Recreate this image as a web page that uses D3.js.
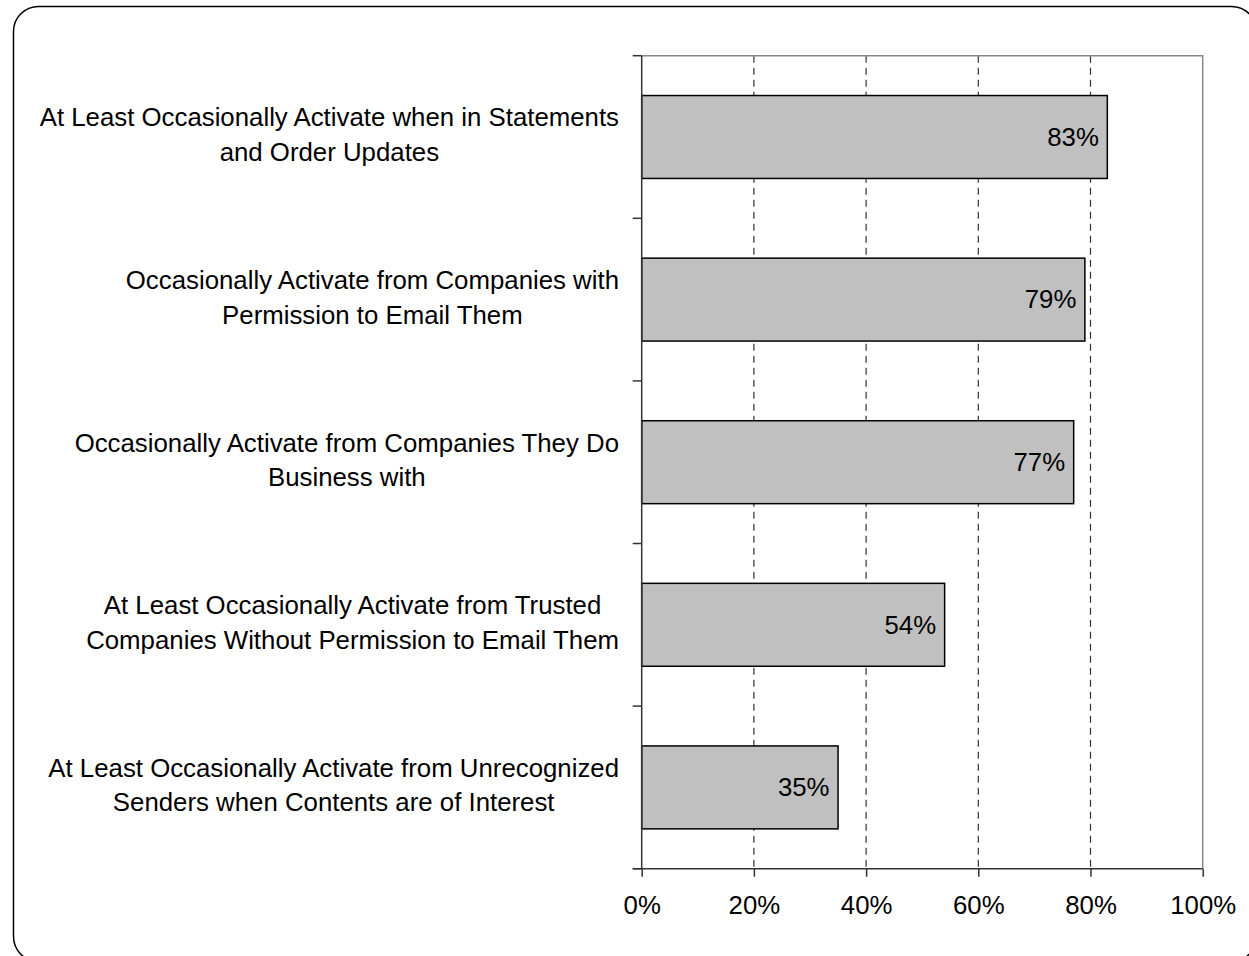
<!DOCTYPE html>
<html>
<head>
<meta charset="utf-8">
<script src="https://cdn.jsdelivr.net/npm/d3@7/dist/d3.min.js"></script>
<style>
  html, body { margin: 0; padding: 0; background: #fff; }
  svg { display: block; }
  text { font-family: "Liberation Sans", Arial, sans-serif; fill: #000; }
</style>
</head>
<body>
<svg id="chart" width="1249" height="956"></svg>
<script>
// Survey responses: share of respondents who activate images in email
const categories = [
  "At Least Occasionally Activate when in Statements and Order Updates",
  "Occasionally Activate from Companies with Permission to Email Them",
  "Occasionally Activate from Companies They Do Business with",
  "At Least Occasionally Activate from Trusted Companies Without Permission to Email Them",
  "At Least Occasionally Activate from Unrecognized Senders when Contents are of Interest"
];
const categoryLines = [
  ["At Least Occasionally Activate when in Statements", "and Order Updates"],
  ["Occasionally Activate from Companies with", "Permission to Email Them"],
  ["Occasionally Activate from Companies They Do", "Business with"],
  ["At Least Occasionally Activate from Trusted", "Companies Without Permission to Email Them"],
  ["At Least Occasionally Activate from Unrecognized", "Senders when Contents are of Interest"]
];
const values = [83, 79, 77, 54, 35];
const xTicks = [0, 20, 40, 60, 80, 100];

const svg = d3.select("#chart");
const fontSize = 25.8;

// outer rounded frame
svg.append("rect")
  .attr("x", 13.5).attr("y", 6.5)
  .attr("width", 1243).attr("height", 955)
  .attr("rx", 25).attr("ry", 25)
  .attr("fill", "#fff").attr("stroke", "#000").attr("stroke-width", 1.5);

const plot = { left: 641.7, right: 1202.7, top: 55.7, bottom: 868.7 };

const x = d3.scaleLinear().domain([0, 100]).range([plot.left, plot.right]);
const y = d3.scaleBand().domain(categories)
  .range([plot.top, plot.bottom])
  .paddingInner(0.49).paddingOuter(0.245);

// dashed vertical gridlines
svg.append("g")
  .selectAll("line")
  .data(xTicks.filter(t => t > 0 && t < 100))
  .join("line")
  .attr("x1", d => x(d)).attr("x2", d => x(d))
  .attr("y1", plot.top).attr("y2", plot.bottom)
  .attr("stroke", "#333").attr("stroke-width", 1.2)
  .attr("stroke-dasharray", "7,5");

// plot border (top and right)
svg.append("path")
  .attr("d", `M${plot.left},${plot.top}H${plot.right}V${plot.bottom}`)
  .attr("fill", "none").attr("stroke", "#888").attr("stroke-width", 1.5);

// bars
svg.append("g")
  .selectAll("rect")
  .data(values)
  .join("rect")
  .attr("x", x(0))
  .attr("y", (d, i) => y(categories[i]))
  .attr("width", d => x(d) - x(0))
  .attr("height", y.bandwidth())
  .attr("fill", "#c0c0c0")
  .attr("stroke", "#000").attr("stroke-width", 1.5);

// value labels inside bar ends
svg.append("g")
  .selectAll("text")
  .data(values)
  .join("text")
  .attr("x", d => x(d) - 8.5)
  .attr("y", (d, i) => y(categories[i]) + y.bandwidth() / 2 + fontSize * 0.34)
  .attr("text-anchor", "end")
  .attr("font-size", fontSize)
  .text(d => d + "%");

// x axis
const xAxis = d3.axisBottom(x)
  .tickValues(xTicks)
  .tickFormat(d => d + "%")
  .tickSize(8)
  .tickPadding(19);
const gx = svg.append("g")
  .attr("transform", `translate(0,${plot.bottom})`)
  .call(xAxis);
gx.select(".domain").remove();
gx.selectAll(".tick line").attr("stroke", "#333").attr("stroke-width", 1.5);
gx.selectAll(".tick text")
  .attr("font-size", fontSize)
  .attr("font-family", '"Liberation Sans", Arial, sans-serif')
  .attr("fill", "#000")
  .attr("dy", "0.71em");
gx.append("line")
  .attr("x1", plot.left - 9).attr("x2", plot.right)
  .attr("y1", 0).attr("y2", 0)
  .attr("stroke", "#333").attr("stroke-width", 1.5);

// y axis line and ticks at category boundaries
const gy = svg.append("g");
gy.append("line")
  .attr("x1", plot.left).attr("x2", plot.left)
  .attr("y1", plot.top).attr("y2", plot.bottom)
  .attr("stroke", "#333").attr("stroke-width", 1.5);
const boundaries = d3.range(categories.length + 1).map(i => plot.top + i * y.step());
gy.selectAll("line.tick")
  .data(boundaries)
  .join("line")
  .attr("class", "tick")
  .attr("x1", plot.left - 9).attr("x2", plot.left)
  .attr("y1", d => d).attr("y2", d => d)
  .attr("stroke", "#333").attr("stroke-width", 1.5);

// wrapped category labels: lines centred on each other, block right-aligned
const labelRight = 619;
const lineGap = 34.5;
categoryLines.forEach((lines, i) => {
  const cy = y(categories[i]) + y.bandwidth() / 2;
  const g = svg.append("g");
  const texts = g.selectAll("text")
    .data(lines)
    .join("text")
    .attr("font-size", fontSize)
    .attr("text-anchor", "middle")
    .attr("y", (d, j) => cy - 10.6 + j * lineGap)
    .text(d => d);
  let maxW = 0;
  texts.each(function () { maxW = Math.max(maxW, this.getComputedTextLength()); });
  texts.attr("x", labelRight - maxW / 2);
});
</script>
</body>
</html>
